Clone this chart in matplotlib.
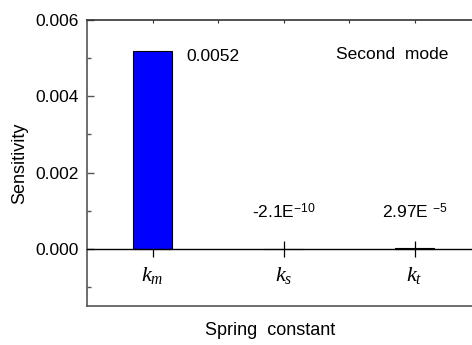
import matplotlib
matplotlib.use('Agg')
import matplotlib.pyplot as plt
from matplotlib.ticker import MultipleLocator, FormatStrFormatter, FixedLocator

plt.rcParams['font.family'] = ['Liberation Sans', 'DejaVu Sans']
plt.rcParams['mathtext.fontset'] = 'custom'
plt.rcParams['mathtext.rm'] = 'Liberation Sans'
plt.rcParams['mathtext.it'] = 'Liberation Serif:italic'

# sensitivity of the second mode to each spring constant
params = [r'$k_m$', r'$k_s$', r'$k_t$']
sens = [0.0052, -2.1e-10, 2.97e-5]
sens_text = ['0.0052', r'-2.1E$^{\mathregular{-10}}$', r'2.97E $^{\mathregular{-5}}$']

x = [1, 2, 3]

fig = plt.figure(figsize=(4.72, 3.45), dpi=100)
ax = fig.add_axes([87 / 472, 39 / 345, 393 / 472, 286 / 345])

ax.bar(x, sens, width=0.3, color='#0000ff', edgecolor='black', linewidth=0.8, zorder=2)

ax.set_xlim(0.5, 3.5)
ax.set_ylim(-0.0015, 0.006)

# x axis sits on the zero line, the frame bottom is drawn separately
ax.spines['bottom'].set_position(('data', 0))
ax.spines['bottom'].set_linewidth(1.0)
ax.spines['bottom'].set_color('black')
ax.plot([0, 1], [0, 0], transform=ax.transAxes, color='#555555', lw=1.2, clip_on=False)
ax.spines['left'].set_color('#555555')
ax.spines['left'].set_linewidth(1.2)
ax.spines['top'].set_color('#333333')
ax.spines['top'].set_linewidth(1.2)
ax.spines['right'].set_visible(False)

ax.xaxis.set_major_locator(FixedLocator(x))
ax.set_xticklabels(params, fontsize=16)
ax.tick_params(axis='x', which='major', direction='inout', length=12, width=0.9, pad=6, top=False)
ax.tick_params(axis='x', which='minor', length=0)

ax.yaxis.set_major_locator(MultipleLocator(0.002))
ax.yaxis.set_minor_locator(MultipleLocator(0.001))
ax.yaxis.set_major_formatter(FormatStrFormatter('%.3f'))
ax.tick_params(axis='y', which='major', direction='in', length=5, width=1.0, labelsize=12.5, pad=6, color='#555555')
ax.tick_params(axis='y', which='minor', direction='in', length=3, width=1.0, color='#555555')

# tiny ticks along the top of the frame
top = ax.secondary_xaxis('top')
top.xaxis.set_major_locator(FixedLocator([1, 1.5, 2, 2.5, 3]))
top.tick_params(direction='in', length=2, width=0.8, labeltop=False, color='#333333')
top.spines['top'].set_visible(False)

for xi, v, t in zip(x, sens, sens_text):
    if v > 0.001:
        ax.text(xi + 0.255, v - 0.00015, t, fontsize=12.5, ha='left', va='center')
    else:
        ax.text(xi, 0.00097, t, fontsize=12.5, ha='center', va='center')

ax.text(0.634, 0.878, 'Second  mode', transform=ax.transAxes, fontsize=12.5, ha='left', va='center')

ax.set_xlabel('Spring  constant', fontsize=13)
ax.xaxis.set_label_coords(0.466, -0.056)
ax.set_ylabel('Sensitivity', fontsize=13)
ax.yaxis.set_label_coords(-0.15, 0.5)

fig.savefig('out.png', dpi=100)
